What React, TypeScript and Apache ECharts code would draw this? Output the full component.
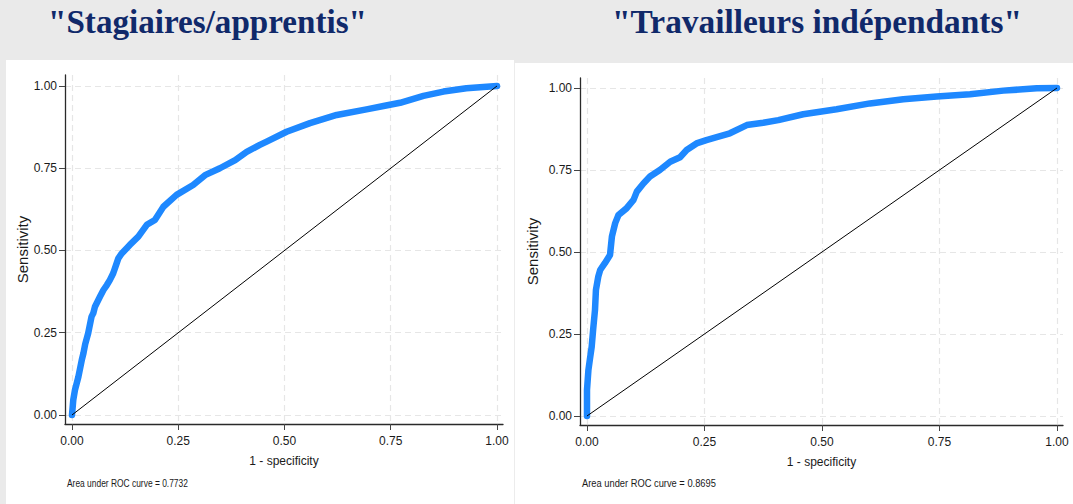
import React, { useEffect, useRef } from "react";
import * as echarts from "echarts";

// ---- Data ----
const panelTitles = ['"Stagiaires/apprentis"', '"Travailleurs indépendants"'];
const aucNotes = ["Area under ROC curve = 0.7732", "Area under ROC curve = 0.8695"];
const tickValues = [0, 0.25, 0.5, 0.75, 1];
const xAxisTitle = "1 - specificity";
const yAxisTitle = "Sensitivity";

// ROC curve 1: Stagiaires/apprentis (1 - specificity, sensitivity)
const stagiairesFpr = [
  0, 0.003, 0.007, 0.015, 0.023, 0.027, 0.031, 0.038, 0.046, 0.05, 0.054, 0.066, 0.074, 0.082,
  0.089, 0.097, 0.105, 0.109, 0.117, 0.136, 0.156, 0.176, 0.195, 0.215, 0.246, 0.285, 0.313,
  0.348, 0.384, 0.411, 0.442, 0.458, 0.505, 0.56, 0.623, 0.693, 0.736, 0.772, 0.827, 0.874,
  0.928, 1,
];
const stagiairesTpr = [
  0, 0.046, 0.076, 0.116, 0.167, 0.188, 0.215, 0.248, 0.299, 0.309, 0.329, 0.36, 0.38, 0.395,
  0.41, 0.431, 0.461, 0.476, 0.491, 0.517, 0.542, 0.578, 0.593, 0.633, 0.669, 0.699, 0.729,
  0.75, 0.775, 0.8, 0.821, 0.831, 0.861, 0.887, 0.912, 0.929, 0.94, 0.949, 0.97, 0.983,
  0.993, 1,
];

// ROC curve 2: Travailleurs indépendants
const independantsFpr = [
  0, 0, 0, 0.003, 0.006, 0.01, 0.013, 0.017, 0.019, 0.024, 0.028, 0.038, 0.049, 0.053, 0.06,
  0.067, 0.084, 0.099, 0.106, 0.12, 0.134, 0.155, 0.177, 0.198, 0.212, 0.233, 0.254, 0.276,
  0.304, 0.34, 0.375, 0.407, 0.46, 0.531, 0.602, 0.673, 0.744, 0.815, 0.886, 0.957, 1,
];
const independantsTpr = [
  0, 0.04, 0.079, 0.14, 0.171, 0.211, 0.262, 0.323, 0.384, 0.425, 0.445, 0.466, 0.491, 0.547,
  0.588, 0.613, 0.633, 0.659, 0.684, 0.709, 0.73, 0.75, 0.775, 0.789, 0.811, 0.831, 0.841,
  0.85, 0.862, 0.887, 0.894, 0.902, 0.92, 0.935, 0.953, 0.966, 0.974, 0.981, 0.992, 0.999, 1,
];

const referenceX = [0, 1];
const referenceY = [0, 1];

const zip = (xs: number[], ys: number[]) => xs.map((x, i) => [x, ys[i]]);

// ---- Layout / style ----
const SANS = "'Liberation Sans', Arial, sans-serif";
const TITLE_FONT = "'Liberation Serif', 'Times New Roman', serif";
const CURVE_COLOR = "#1e88ff";

const panels = [
  {
    grid: { left: 65, top: 75, width: 438, height: 349 },
    xRange: [-0.01647, 1.01412],
    yRange: [-0.02736, 1.03343],
    yNameGap: 35,
    titleX: 207.5,
    titleWidth: 319,
    noteX: 67,
    noteWidth: 121,
    curve: zip(stagiairesFpr, stagiairesTpr),
  },
  {
    grid: { left: 580, top: 78, width: 483, height: 347 },
    xRange: [-0.01489, 1.01277],
    yRange: [-0.02744, 1.03049],
    yNameGap: 40,
    titleX: 817,
    titleWidth: 410,
    noteX: 582,
    noteWidth: 134,
    curve: zip(independantsFpr, independantsTpr),
  },
];

function textWidth(text: string, font: string): number {
  const ctx = document.createElement("canvas").getContext("2d");
  if (!ctx) return 0;
  ctx.font = font;
  return ctx.measureText(text).width;
}

export default function App() {
  const ref = useRef<HTMLDivElement>(null);

  useEffect(() => {
    if (!ref.current) return;
    const chart = echarts.init(ref.current, undefined, { renderer: "svg" });

    const axisLine = { show: true, onZero: false, lineStyle: { color: "#2a2a2a", width: 1.3 } };
    const axisTick = {
      show: true,
      customValues: tickValues,
      length: 6,
      lineStyle: { color: "#444", width: 1 },
    };
    const splitLine = {
      show: true,
      lineStyle: { color: "#e6e6e6", width: 1.2, type: [6, 4] },
    };
    const labelStyle = {
      customValues: tickValues,
      formatter: (v: number) => Number(v).toFixed(2),
      fontFamily: SANS,
      fontSize: 12,
      color: "#1a1a1a",
    };

    const titleScale = (i: number) => {
      const w = textWidth(panelTitles[i], `bold 33px ${TITLE_FONT}`);
      return w > 0 ? panels[i].titleWidth / w : 1;
    };
    const noteScale = (i: number) => {
      const w = textWidth(aucNotes[i], `11px ${SANS}`);
      return w > 0 ? panels[i].noteWidth / w : 1;
    };

    const option: any = {
      animation: false,
      backgroundColor: "#eaeaea",
      grid: panels.map((p) => ({ ...p.grid, containLabel: false })),
      xAxis: panels.map((p, i) => ({
        type: "value",
        gridIndex: i,
        min: p.xRange[0],
        max: p.xRange[1],
        axisLine,
        axisTick,
        splitLine,
        axisLabel: { ...labelStyle, margin: 11 },
        name: xAxisTitle,
        nameLocation: "middle",
        nameGap: 31,
        nameTextStyle: { fontFamily: SANS, fontSize: 12, color: "#1a1a1a" },
      })),
      yAxis: panels.map((p, i) => ({
        type: "value",
        gridIndex: i,
        min: p.yRange[0],
        max: p.yRange[1],
        axisLine,
        axisTick,
        splitLine,
        axisLabel: { ...labelStyle, margin: 8 },
        name: yAxisTitle,
        nameLocation: "middle",
        nameGap: p.yNameGap,
        nameTextStyle: { fontFamily: SANS, fontSize: 15, color: "#1a1a1a" },
      })),
      series: panels.flatMap((p, i) => [
        {
          type: "line",
          xAxisIndex: i,
          yAxisIndex: i,
          data: p.curve,
          showSymbol: false,
          symbol: "none",
          z: 3,
          lineStyle: { color: CURVE_COLOR, width: 6.5, cap: "round", join: "round" },
          silent: true,
        },
        {
          type: "line",
          xAxisIndex: i,
          yAxisIndex: i,
          data: zip(referenceX, referenceY),
          showSymbol: false,
          symbol: "none",
          z: 4,
          lineStyle: { color: "#000", width: 1 },
          silent: true,
        },
      ]),
      graphic: [
        { type: "rect", z: -10, shape: { x: 6, y: 60, width: 508, height: 444 }, style: { fill: "#ffffff" }, silent: true },
        { type: "rect", z: -10, shape: { x: 514, y: 63, width: 559, height: 441 }, style: { fill: "#ffffff" }, silent: true },
        { type: "rect", z: -9, shape: { x: 514, y: 63, width: 1, height: 441 }, style: { fill: "#ececec" }, silent: true },
        ...panels.map((p, i) => ({
          type: "text",
          x: p.titleX,
          y: 22,
          scaleX: titleScale(i),
          style: {
            text: panelTitles[i],
            fill: "#10296a",
            fontFamily: TITLE_FONT,
            fontWeight: "bold",
            fontSize: 33,
            align: "center",
            verticalAlign: "middle",
          },
        })),
        ...panels.map((p, i) => ({
          type: "text",
          x: p.noteX,
          y: 483,
          scaleX: noteScale(i),
          style: {
            text: aucNotes[i],
            fill: "#1a1a1a",
            fontFamily: SANS,
            fontSize: 11,
            align: "left",
            verticalAlign: "middle",
          },
        })),
      ],
    };

    chart.setOption(option);
    return () => chart.dispose();
  }, []);

  return (
    <div
      ref={ref}
      style={{ position: "absolute", left: 0, top: 0, width: 1073, height: 504 }}
    />
  );
}
